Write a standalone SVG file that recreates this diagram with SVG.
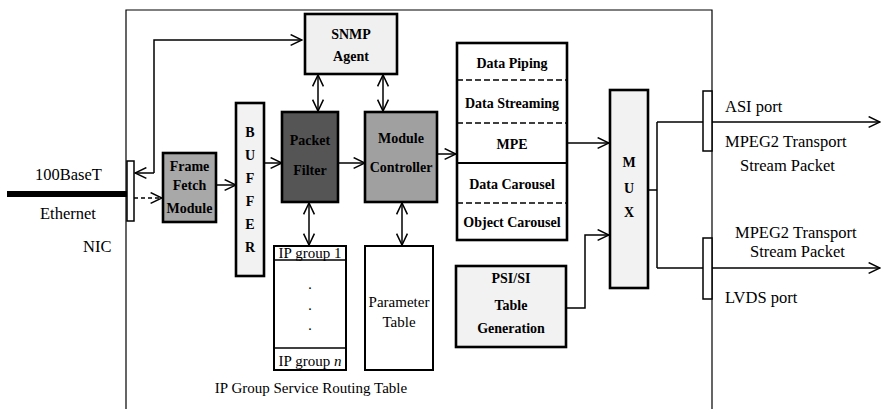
<svg xmlns="http://www.w3.org/2000/svg" width="882" height="409" viewBox="0 0 882 409" font-family="'Liberation Serif', 'DejaVu Serif', serif">
<defs>
<marker id="a" viewBox="0 0 12 12" refX="11.5" refY="6" markerWidth="13" markerHeight="13" orient="auto-start-reverse" markerUnits="userSpaceOnUse">
<path d="M1,1 L11.5,6 L1,11" fill="none" stroke="#000" stroke-width="1.4"/>
</marker>
<style>
text{font-family:'Liberation Serif','DejaVu Serif',serif;fill:#000}
.b{font-weight:bold;font-size:14px;text-anchor:middle}
.lbl{font-size:16.5px}
.t{font-size:15px;text-anchor:middle}
.box{stroke:#000;stroke-width:2.6}
.ln{fill:none;stroke:#000;stroke-width:1.5}
.thin{fill:none;stroke:#000;stroke-width:1.2}
</style>
</defs>
<rect width="882" height="409" fill="#fff"/>

<g id="frame">
<path d="M126,409 V10 H712 V409" class="thin"/>
</g>

<g id="connectors">
<line x1="7" y1="194" x2="127" y2="194" stroke="#000" stroke-width="6"/>
<path d="M154,173 H135" class="ln" marker-end="url(#a)"/>
<path d="M154,173 V40 H302" class="ln" marker-end="url(#a)"/>
<path d="M134,198 H162" class="ln" stroke-dasharray="4,3" marker-end="url(#a)"/>
<path d="M216,185 H236" class="ln" marker-end="url(#a)"/>
<path d="M264,163 H282" class="ln" marker-end="url(#a)"/>
<path d="M338,163 H365" class="ln" marker-end="url(#a)"/>
<path d="M437,154 H456" class="ln" marker-end="url(#a)"/>
<path d="M318,75 V111" class="ln" marker-start="url(#a)" marker-end="url(#a)"/>
<path d="M383,75 V111" class="ln" marker-start="url(#a)" marker-end="url(#a)"/>
<path d="M309,203 V245" class="ln" marker-start="url(#a)" marker-end="url(#a)"/>
<path d="M402,203 V245" class="ln" marker-start="url(#a)" marker-end="url(#a)"/>
<path d="M568,143 H609" class="ln" marker-end="url(#a)"/>
<path d="M566,308 H585 V235 H609" class="ln" marker-end="url(#a)"/>
<path d="M648,190 H657" class="ln"/>
<path d="M657,122 V268" class="ln"/>
<path d="M657,122 H880" class="ln" marker-end="url(#a)"/>
<path d="M657,268 H880" class="ln" marker-end="url(#a)"/>
</g>

<g id="nic">
<rect x="127" y="161" width="7" height="60" fill="#fff" stroke="#000" stroke-width="1.5"/>
<text x="35" y="180" class="lbl">100BaseT</text>
<text x="40" y="219" class="lbl">Ethernet</text>
<text x="83" y="252" class="lbl">NIC</text>
</g>

<g id="frame-fetch">
<rect x="163" y="153" width="53" height="69" fill="#a8a8a8" class="box"/>
<text x="189.5" y="171" class="b" font-size="13">Frame</text>
<text x="189.5" y="190" class="b" font-size="13">Fetch</text>
<text x="189.5" y="213" class="b" font-size="13">Module</text>
</g>

<g id="buffer">
<rect x="236" y="103" width="28" height="173" fill="#f2f2f2" class="box"/>
<text x="250" y="137" class="b" font-size="16">B</text>
<text x="250" y="160" class="b" font-size="16">U</text>
<text x="250" y="183" class="b" font-size="16">F</text>
<text x="250" y="206" class="b" font-size="16">F</text>
<text x="250" y="229" class="b" font-size="16">E</text>
<text x="250" y="252" class="b" font-size="16">R</text>
</g>

<g id="snmp">
<rect x="305" y="14" width="92" height="60" fill="#f0f0f0" class="box"/>
<text x="351" y="39" class="b" font-size="17">SNMP</text>
<text x="351" y="61" class="b" font-size="15">Agent</text>
</g>

<g id="packet-filter">
<rect x="282" y="112" width="56" height="90" fill="#555" class="box"/>
<text x="310" y="145" class="b">Packet</text>
<text x="310" y="175" class="b">Filter</text>
</g>

<g id="module-controller">
<rect x="365" y="112" width="72" height="90" fill="#a0a0a0" class="box"/>
<text x="401" y="143" class="b" font-size="15">Module</text>
<text x="401" y="172" class="b" font-size="15">Controller</text>
</g>

<g id="services">
<rect x="457" y="43" width="110" height="197" fill="#fff" class="box"/>
<line x1="457" y1="80" x2="567" y2="80" stroke="#000" stroke-width="1.5" stroke-dasharray="6,3"/>
<line x1="457" y1="123" x2="567" y2="123" stroke="#000" stroke-width="1.5" stroke-dasharray="6,3"/>
<line x1="457" y1="163" x2="567" y2="163" stroke="#000" stroke-width="1.8"/>
<line x1="457" y1="203" x2="567" y2="203" stroke="#000" stroke-width="1.5" stroke-dasharray="6,3"/>
<text x="512" y="68" class="b">Data Piping</text>
<text x="512" y="108" class="b">Data Streaming</text>
<text x="512" y="149" class="b">MPE</text>
<text x="512" y="189" class="b">Data Carousel</text>
<text x="512" y="227" class="b">Object Carousel</text>
</g>

<g id="ip-table">
<rect x="274" y="246" width="72" height="124" fill="#fff" stroke="#000" stroke-width="2"/>
<line x1="274" y1="260" x2="346" y2="260" stroke="#000" stroke-width="1.5"/>
<line x1="274" y1="348" x2="346" y2="348" stroke="#000" stroke-width="1.5"/>
<text x="310" y="258" class="t" font-size="14">IP group 1</text>
<text x="310" y="293" class="t">·</text>
<text x="310" y="314" class="t">·</text>
<text x="310" y="334" class="t">·</text>
<text x="310" y="366" class="t" font-size="14">IP group <tspan font-style="italic">n</tspan></text>
<text x="311" y="393" class="t">IP Group Service Routing Table</text>
</g>

<g id="parameter-table">
<rect x="365" y="246" width="68" height="124" fill="#fff" stroke="#000" stroke-width="2"/>
<text x="399" y="307" class="t">Parameter</text>
<text x="399" y="327" class="t">Table</text>
</g>

<g id="psi-si">
<rect x="456" y="266" width="110" height="81" fill="#f2f2f2" class="box"/>
<text x="511" y="283" class="b" font-size="15">PSI/SI</text>
<text x="511" y="310" class="b" font-size="16">Table</text>
<text x="511" y="333" class="b" font-size="16">Generation</text>
</g>

<g id="mux">
<rect x="610" y="90" width="38" height="198" fill="#f2f2f2" class="box"/>
<text x="629" y="167" class="b" font-size="16">M</text>
<text x="629" y="193" class="b" font-size="16">U</text>
<text x="629" y="217" class="b" font-size="16">X</text>
</g>

<g id="asi-port">
<rect x="703" y="91" width="9" height="60" fill="#fff" stroke="#000" stroke-width="1.5"/>
<text x="725" y="112" class="lbl">ASI port</text>
<text x="725" y="147" class="lbl">MPEG2 Transport</text>
<text x="740" y="171" class="lbl">Stream Packet</text>
</g>

<g id="lvds-port">
<rect x="703" y="238" width="9" height="61" fill="#fff" stroke="#000" stroke-width="1.5"/>
<text x="735" y="238" class="lbl">MPEG2 Transport</text>
<text x="750" y="257" class="lbl">Stream Packet</text>
<text x="725" y="303" class="lbl">LVDS port</text>
</g>
</svg>
